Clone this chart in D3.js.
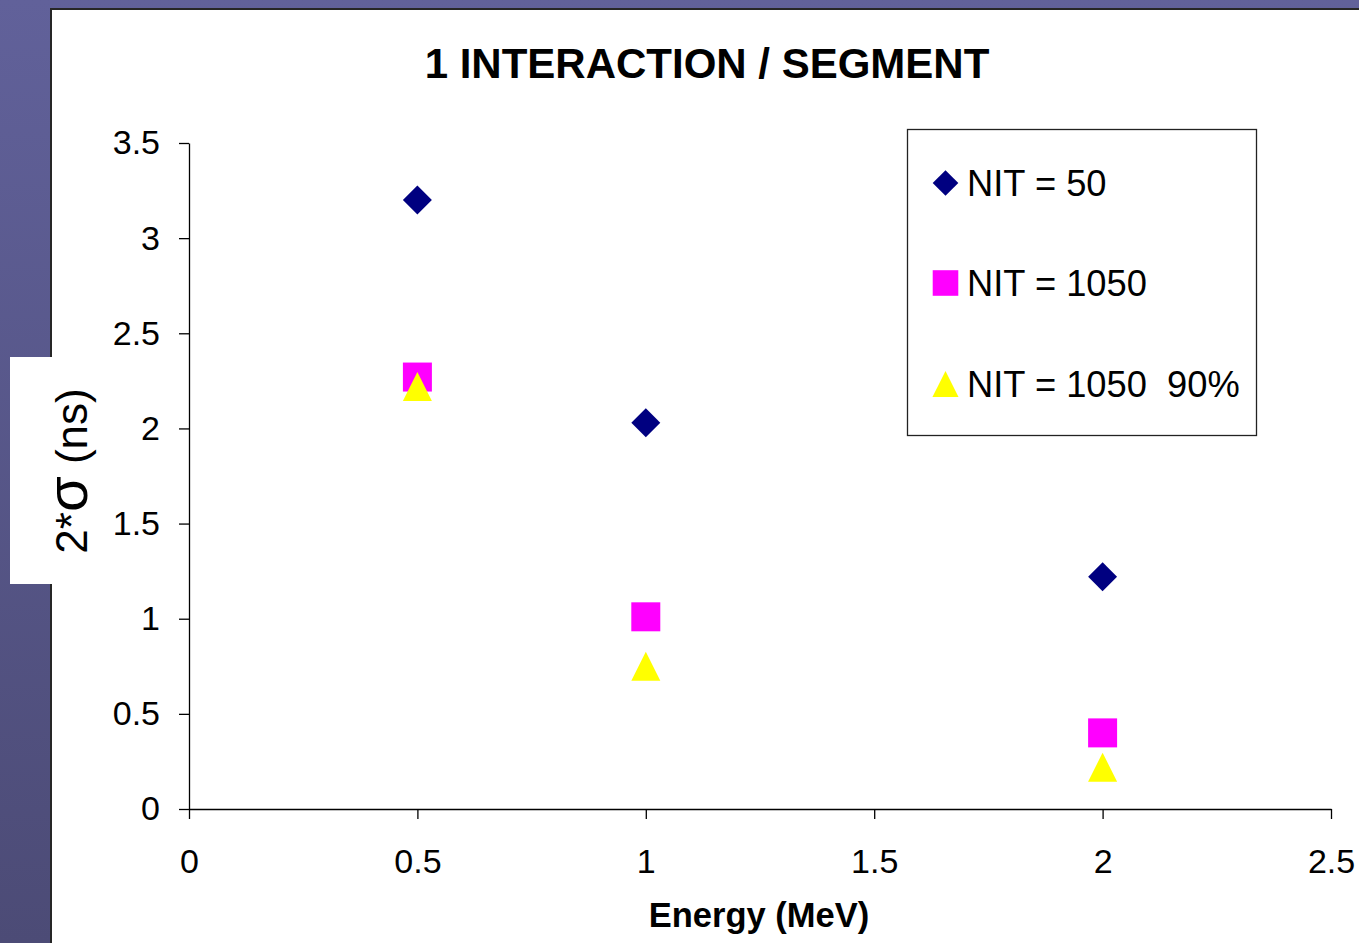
<!DOCTYPE html>
<html>
<head>
<meta charset="utf-8">
<script src="https://cdn.jsdelivr.net/npm/d3@7"></script>
<style>
  body { margin: 0; overflow: hidden; }
  svg { display: block; font-family: "Liberation Sans", Arial, sans-serif; }
  .axis path, .axis line { stroke: #000; stroke-width: 1.3px; }
  .axis text { font-size: 34px; fill: #000; }
</style>
</head>
<body>
<svg id="chart"></svg>
<script>
// data
const energy = [0.5, 1, 2];
const nit50 = [3.2, 2.03, 1.22];
const nit1050 = [2.27, 1.01, 0.4];
const nit1050_90 = [2.22, 0.75, 0.22];
const xTicks = [0, 0.5, 1, 1.5, 2, 2.5];
const yTicks = [0, 0.5, 1, 1.5, 2, 2.5, 3, 3.5];
const seriesNames = ["NIT = 50", "NIT = 1050", "NIT = 1050\u00a0\u00a090%"];

const W = 1359, H = 943;
const svg = d3.select("#chart").attr("width", W).attr("height", H);

// slide background
const defs = svg.append("defs");
const grad = defs.append("linearGradient").attr("id", "bg")
  .attr("x1", 0).attr("y1", 0).attr("x2", 0).attr("y2", 1);
grad.append("stop").attr("offset", 0).attr("stop-color", "#61619a");
grad.append("stop").attr("offset", 1).attr("stop-color", "#4c4b76");
svg.append("rect").attr("width", W).attr("height", H).attr("fill", "url(#bg)");

// white chart panel
svg.append("rect").attr("x", 52).attr("y", 10).attr("width", W).attr("height", H)
  .attr("fill", "#fff");
svg.append("path").attr("d", "M51,943V9H1359")
  .attr("fill", "none").attr("stroke", "#262626").attr("stroke-width", 2);

// scales
const x = d3.scaleLinear().domain([0, 2.5]).range([189, 1331]);
const y = d3.scaleLinear().domain([0, 3.5]).range([809, 143]);

// axes
svg.append("g").attr("class", "axis")
  .attr("transform", "translate(0,809)")
  .call(d3.axisBottom(x).tickValues(xTicks).tickFormat(d => String(d))
    .tickSize(10).tickSizeOuter(0).tickPadding(30));

svg.append("g").attr("class", "axis")
  .attr("transform", "translate(189,0)")
  .call(d3.axisLeft(y).tickValues(yTicks).tickFormat(d => String(d))
    .tickSize(10).tickSizeOuter(0).tickPadding(19));

// isoceles triangle marker, size = w*w
const triangle = {
  draw(ctx, size) {
    const h = Math.sqrt(size) / 2;
    ctx.moveTo(0, -h);
    ctx.lineTo(h, h);
    ctx.lineTo(-h, h);
    ctx.closePath();
  }
};

const series = [
  { name: seriesNames[0], values: nit50, color: "#000080", type: d3.symbolSquare, rot: 45, size: 420, legSize: 328 },
  { name: seriesNames[1], values: nit1050, color: "#ff00ff", type: d3.symbolSquare, rot: 0, size: 841, legSize: 655 },
  { name: seriesNames[2], values: nit1050_90, color: "#ffff00", type: triangle, rot: 0, size: 841, legSize: 680 }
];

series.forEach(s => {
  svg.append("g").selectAll("path")
    .data(s.values)
    .join("path")
    .attr("d", d3.symbol().type(s.type).size(s.size))
    .attr("transform", (d, i) => `translate(${x(energy[i])},${y(d)}) rotate(${s.rot})`)
    .attr("fill", s.color);
});

// title
svg.append("text").attr("x", 707).attr("y", 78)
  .attr("text-anchor", "middle").attr("font-size", 42).attr("font-weight", "bold")
  .text("1 INTERACTION / SEGMENT");

// x axis title
svg.append("text").attr("x", 759).attr("y", 927)
  .attr("text-anchor", "middle").attr("font-size", 34.5).attr("font-weight", "bold")
  .text("Energy (MeV)");

// y axis title box
svg.append("rect").attr("x", 10).attr("y", 357).attr("width", 44).attr("height", 227)
  .attr("fill", "#fff");
const yt = svg.append("text")
  .attr("transform", "translate(87,471) rotate(-90)")
  .attr("text-anchor", "middle").attr("font-size", 44);
yt.append("tspan").text("2*");
yt.append("tspan").attr("font-size", 58).text("\u03c3");
yt.append("tspan").text(" (ns)");

// legend
const leg = svg.append("g");
leg.append("rect").attr("x", 907.5).attr("y", 129.5).attr("width", 349).attr("height", 306)
  .attr("fill", "#fff").attr("stroke", "#222").attr("stroke-width", 1.3);
const legRows = [183, 283, 384];
series.forEach((s, i) => {
  leg.append("path")
    .attr("d", d3.symbol().type(s.type).size(s.legSize))
    .attr("transform", `translate(945.5,${legRows[i]}) rotate(${s.rot})`)
    .attr("fill", s.color);
  leg.append("text").attr("x", 967).attr("y", legRows[i] + 13)
    .attr("font-size", 36.3).text(s.name);
});
</script>
</body>
</html>
